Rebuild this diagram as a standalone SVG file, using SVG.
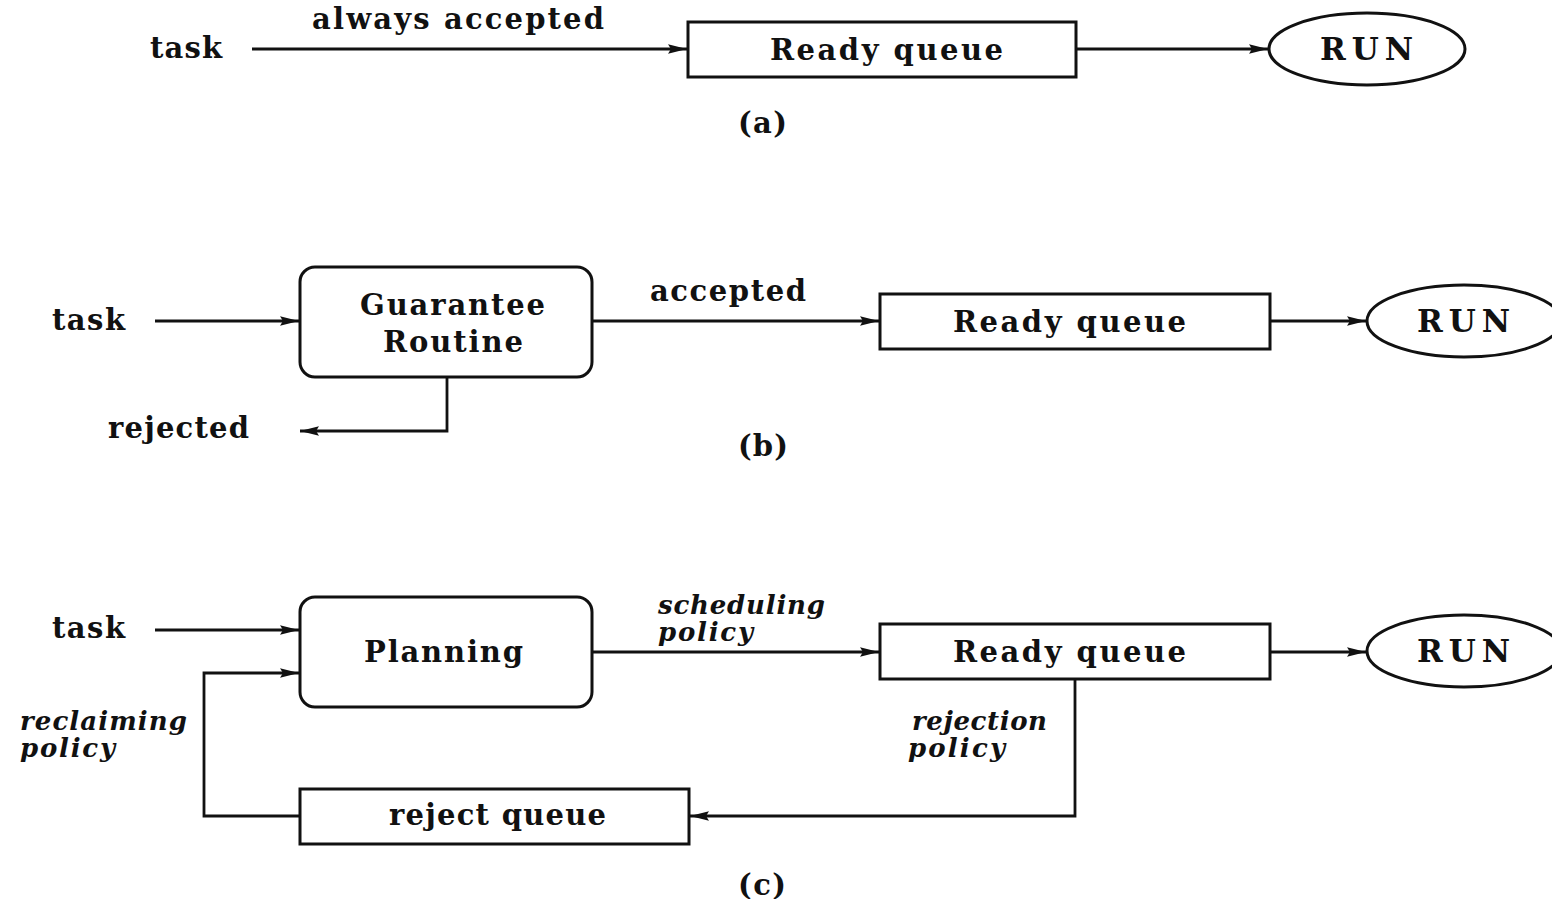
<svg xmlns="http://www.w3.org/2000/svg" width="1552" height="899" viewBox="0 0 1552 899">
<style>
.t{font-family:"DejaVu Serif","Liberation Serif",serif;font-weight:bold;font-size:29px;fill:#111}
.r{font-size:31px}
.i{font-family:"DejaVu Serif","Liberation Serif",serif;font-weight:bold;font-style:italic;font-size:26px;fill:#111}
.box{fill:#fff;stroke:#111;stroke-width:3}
.c{fill:none;stroke:#111;stroke-width:2.8}
</style>
<defs>
<marker id="ah" markerUnits="userSpaceOnUse" markerWidth="20" markerHeight="12" refX="19" refY="6" orient="auto">
<path d="M0,1.2 L19,6 L0,10.8 L3,6 z" fill="#111"/>
</marker>
</defs>
<rect width="1552" height="899" fill="#fff"/>
<g id="connectors">
<path class="c" d="M252,49 H687" marker-end="url(#ah)"/>
<path class="c" d="M1076,49 H1268" marker-end="url(#ah)"/>
<path class="c" d="M155,321 H299" marker-end="url(#ah)"/>
<path class="c" d="M592,321 H879" marker-end="url(#ah)"/>
<path class="c" d="M1270,321 H1366" marker-end="url(#ah)"/>
<path class="c" d="M447,377 V431 H300" marker-end="url(#ah)"/>
<path class="c" d="M155,630 H299" marker-end="url(#ah)"/>
<path class="c" d="M592,652 H879" marker-end="url(#ah)"/>
<path class="c" d="M1270,652 H1366" marker-end="url(#ah)"/>
<path class="c" d="M1075,679 V816 H690" marker-end="url(#ah)"/>
<path class="c" d="M300,816 H204 V673 H299" marker-end="url(#ah)"/>
</g>
<g id="labels">
<text class="t" x="150" y="58" textLength="72">task</text>
<text class="t" x="312" y="29" textLength="292">always accepted</text>
<text class="t" x="738" y="133" textLength="49">(a)</text>
<text class="t" x="52" y="330" textLength="73">task</text>
<text class="t" x="650" y="301" textLength="156">accepted</text>
<text class="t" x="108" y="438" textLength="141">rejected</text>
<text class="t" x="738" y="456" textLength="50">(b)</text>
<text class="t" x="52" y="638" textLength="73">task</text>
<text class="i" x="658" y="614" textLength="167">scheduling</text>
<text class="i" x="658" y="641" textLength="95">policy</text>
<text class="i" x="20" y="730" textLength="167">reclaiming</text>
<text class="i" x="20" y="757" textLength="95">policy</text>
<text class="i" x="912" y="730" textLength="135">rejection</text>
<text class="i" x="908" y="757" textLength="97">policy</text>
<text class="t" x="738" y="895" textLength="48">(c)</text>
</g>
<g id="readyA">
<rect class="box" x="688" y="22" width="388" height="55"/>
<text class="t" x="770" y="60" textLength="233">Ready queue</text>
</g>
<g id="runA">
<ellipse class="box" cx="1367" cy="49" rx="98" ry="36"/>
<text class="t r" x="1320" y="60" textLength="93">RUN</text>
</g>
<g id="guarantee">
<rect class="box" x="300" y="267" width="292" height="110" rx="15"/>
<text class="t" x="360" y="315" textLength="185">Guarantee</text>
<text class="t" x="383" y="352" textLength="140">Routine</text>
</g>
<g id="readyB">
<rect class="box" x="880" y="294" width="390" height="55"/>
<text class="t" x="953" y="332" textLength="233">Ready queue</text>
</g>
<g id="runB">
<ellipse class="box" cx="1464" cy="321" rx="97" ry="36"/>
<text class="t r" x="1417" y="332" textLength="93">RUN</text>
</g>
<g id="planning">
<rect class="box" x="300" y="597" width="292" height="110" rx="15"/>
<text class="t" x="364" y="662" textLength="159">Planning</text>
</g>
<g id="readyC">
<rect class="box" x="880" y="624" width="390" height="55"/>
<text class="t" x="953" y="662" textLength="233">Ready queue</text>
</g>
<g id="runC">
<ellipse class="box" cx="1464" cy="651" rx="97" ry="36"/>
<text class="t r" x="1417" y="662" textLength="93">RUN</text>
</g>
<g id="rejectQueue">
<rect class="box" x="300" y="789" width="389" height="55"/>
<text class="t" x="389" y="825" textLength="217">reject queue</text>
</g>
</svg>
